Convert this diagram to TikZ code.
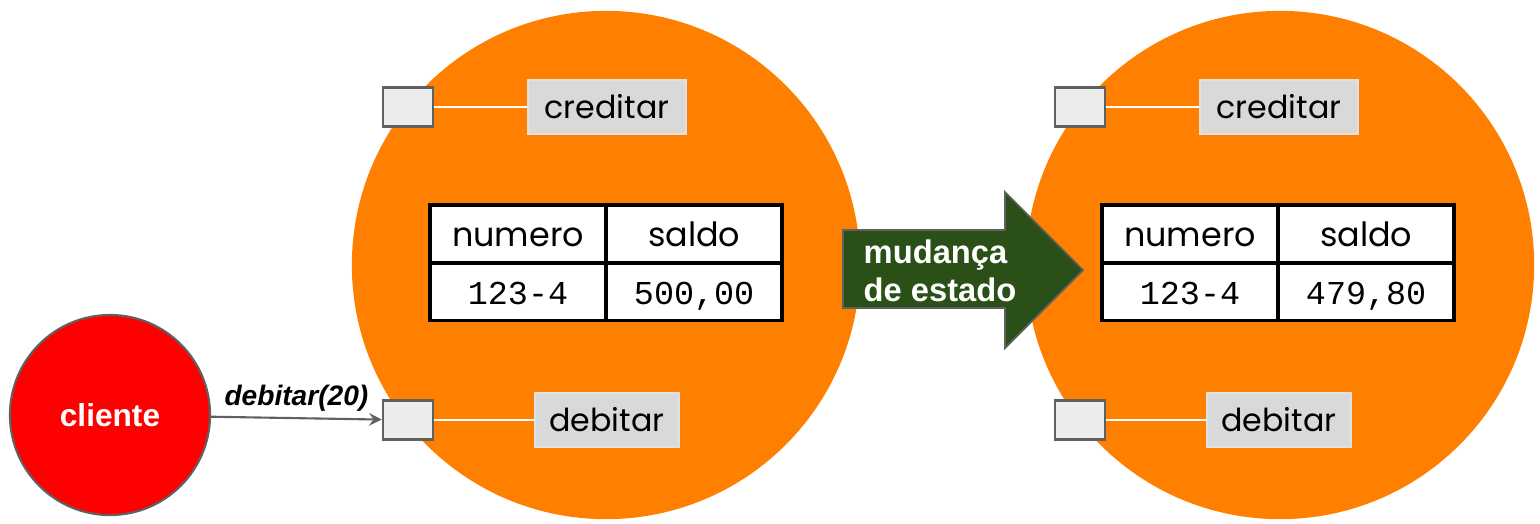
\documentclass[tikz,border=0pt]{standalone}
\usepackage{fontspec}
\setmainfont{Liberation Sans}
\newfontfamily\comicfont{Poppins}
\newfontfamily\courierfont{Liberation Mono}
\usepackage{tikz}
\usetikzlibrary{shapes.geometric, arrows, positioning}
\definecolor{laranja}{RGB}{255,128,0}
\definecolor{verdeescuro}{RGB}{42,80,23}
\definecolor{cinzaborda}{RGB}{96,96,96}
\definecolor{cinzaporta}{RGB}{236,236,236}
\definecolor{cinzarotulo}{RGB}{217,217,217}
\tikzstyle{objeto} = [circle, minimum size=5.08cm, fill=laranja, inner sep=0pt]
\tikzstyle{ator} = [circle, minimum size=2cm, fill=red, draw=cinzaborda, line width=0.6pt, text=white, font=\bfseries\fontsize{9}{11}\selectfont]
\tikzstyle{porta} = [rectangle, minimum width=0.5cm, minimum height=0.39cm, fill=cinzaporta, draw=cinzaborda, line width=0.7pt]
\tikzstyle{metodo} = [rectangle, minimum width=1.58cm, minimum height=0.54cm, fill=cinzarotulo, draw=cinzarotulo!80!white, font=\comicfont\fontsize{9}{11}\selectfont]
\tikzstyle{celula} = [rectangle, minimum width=1.76cm, minimum height=0.575cm, fill=white, draw=black, line width=1pt, outer sep=0pt, text centered, text height=1.6ex, text depth=0.25ex]
\tikzstyle{titulo} = [celula, font=\comicfont\fontsize{9.5}{11}\selectfont]
\tikzstyle{valor} = [celula, font=\courierfont\fontsize{9.5}{11}\selectfont]
\tikzstyle{ligacao} = [draw=white, line width=0.5pt]
\tikzstyle{arrow} = [draw=cinzaborda, line width=0.6pt, ->, >=stealth]

\begin{document}
\begin{tikzpicture}[x=0.01cm, y=-0.01cm]
\useasboundingbox (0,0) rectangle (1540,523);

% Objects
\node (conta1) [objeto] at (606,265) {};
\node (conta2) [objeto] at (1280,265) {};
\node (cliente) [ator] at (110,415) {cliente};

% Ports and methods
\node (c1porta) [porta] at (408,107) {};
\node (d1porta) [porta] at (408,420) {};
\node (c1metodo) [metodo] at (607,107) {creditar};
\node (d1metodo) [metodo, minimum width=1.44cm] at (607,420) {debitar};
\node (c2porta) [porta] at (1080,107) {};
\node (d2porta) [porta] at (1080,420) {};
\node (c2metodo) [metodo] at (1279,107) {creditar};
\node (d2metodo) [metodo, minimum width=1.44cm] at (1279,420) {debitar};

% Tables
\node (numero1) [titulo] at (518,234) {numero};
\node (saldo1) [titulo, right=0pt of numero1] {saldo};
\node (num1val) [valor, below=0pt of numero1] {123-4};
\node (saldo1val) [valor, below=0pt of saldo1] {500,00};
\node (numero2) [titulo] at (1190,234) {numero};
\node (saldo2) [titulo, right=0pt of numero2] {saldo};
\node (num2val) [valor, below=0pt of numero2] {123-4};
\node (saldo2val) [valor, below=0pt of saldo2] {479,80};

% State change
\draw [fill=verdeescuro, draw=cinzaborda, line width=0.5pt]
  (843,230) -- (1005,230) -- (1005,192) -- (1083,270) -- (1005,348) -- (1005,308) -- (843,308) -- cycle;
\node (mudanca) [anchor=west, align=left, inner sep=0pt, text=white, font=\bfseries\fontsize{9.3}{10.8}\selectfont] at (863,271) {mudança\\de estado};

% Lines
\draw [ligacao] (c1porta) -- (c1metodo);
\draw [ligacao] (d1porta) -- (d1metodo);
\draw [ligacao] (c2porta) -- (c2metodo);
\draw [ligacao] (d2porta) -- (d2metodo);

% Arrows
\draw [arrow] (cliente) -- node [above, inner sep=1.5pt, font=\bfseries\itshape\fontsize{8}{10}\selectfont] {debitar(20)} (d1porta);

\end{tikzpicture}
\end{document}
